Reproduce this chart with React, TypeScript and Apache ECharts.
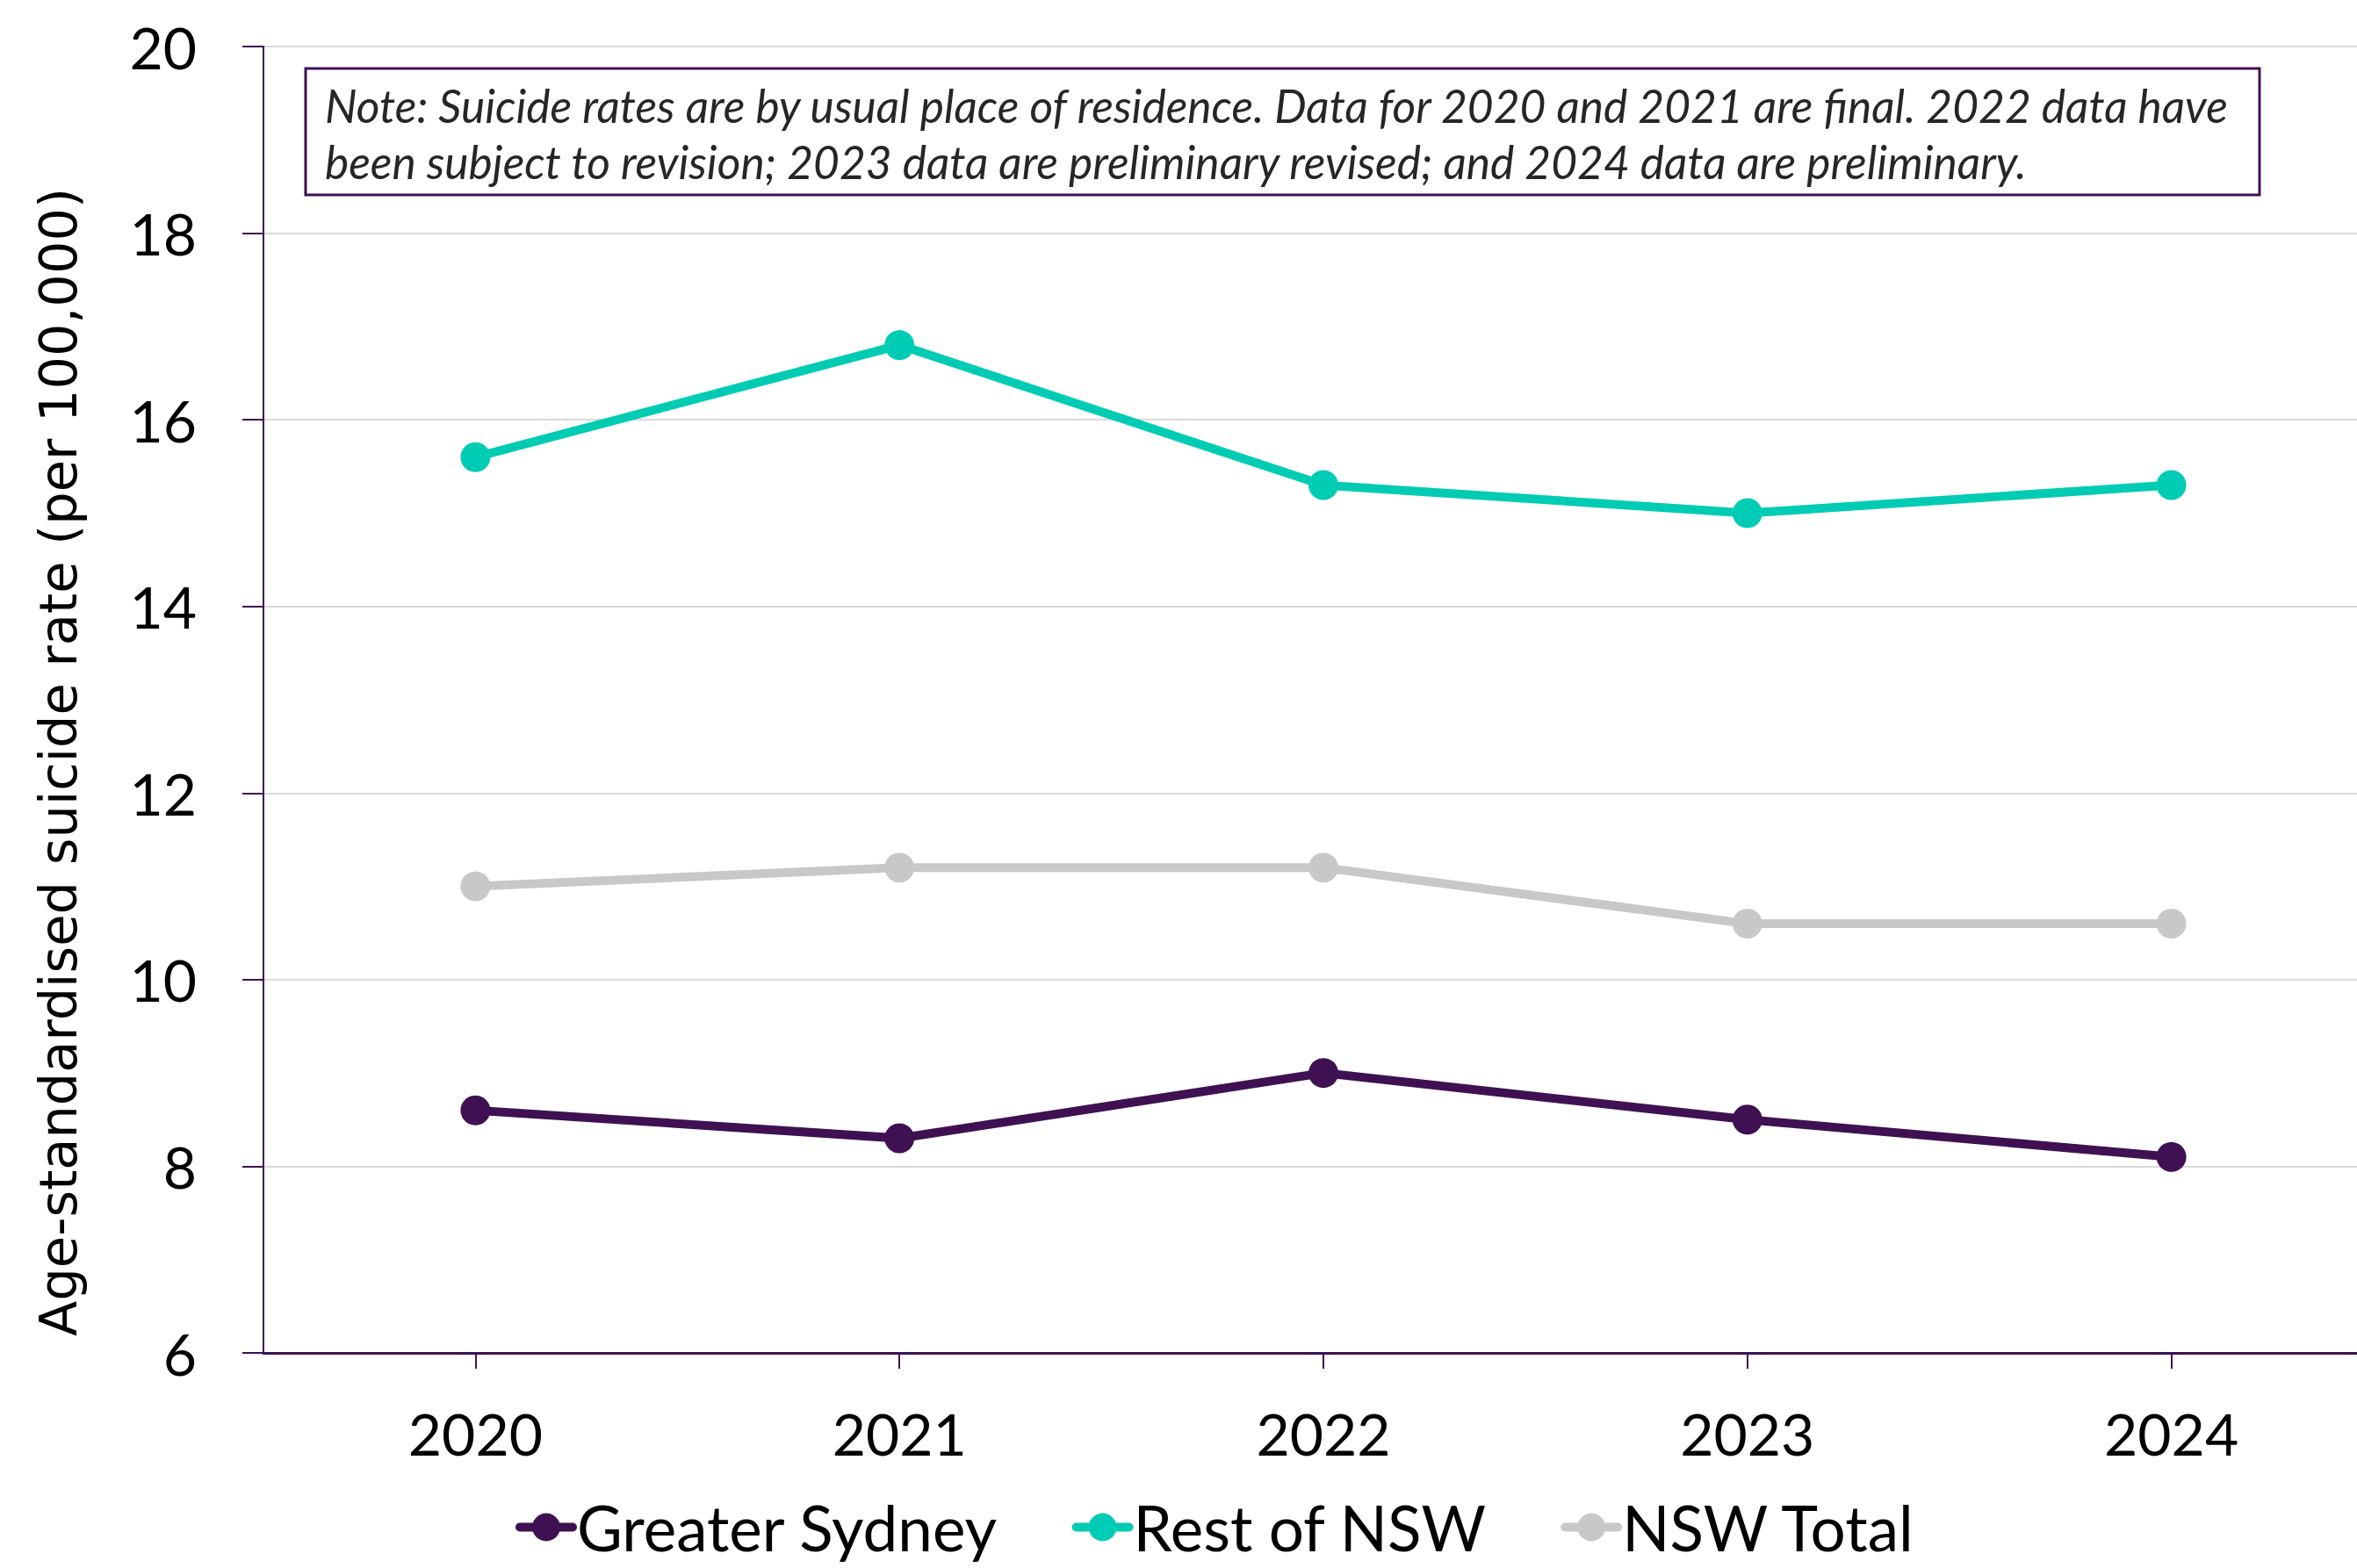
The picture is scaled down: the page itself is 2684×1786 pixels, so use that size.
import React, { useEffect, useRef } from "react";
import * as echarts from "echarts";

// Calendar years on the category axis
const years = ["2020", "2021", "2022", "2023", "2024"];

// Age-standardised suicide rates per 100,000
const greaterSydney = [8.6, 8.3, 9.0, 8.5, 8.1];
const restOfNsw = [15.6, 16.8, 15.3, 15.0, 15.3];
const nswTotal = [11.0, 11.2, 11.2, 10.6, 10.6];

// Value axis range
const yMin = 6;
const yMax = 20;
const yStep = 2;

const seriesNames = ["Greater Sydney", "Rest of NSW", "NSW Total"];
const seriesColors = ["#3F1152", "#00CCB4", "#C8C8C8"];

const axisTitle = "Age-standardised suicide rate (per 100,000)";
const noteText =
  "Note: Suicide rates are by usual place of residence. Data for 2020 and 2021 are final. 2022 data have\n" +
  "been subject to revision; 2023 data are preliminary revised; and 2024 data are preliminary.";

// Visible page area; the chart canvas runs a little past the right edge so the
// last category band is cut, as in the printed figure.
const VIEW_W = 2684;
const VIEW_H = 1786;
const CHART_W = 2714;
const PURPLE = "#3F1152";

export default function App() {
  const ref = useRef<HTMLDivElement>(null);

  useEffect(() => {
    if (!ref.current) return;
    const chart = echarts.init(ref.current, undefined, { renderer: "svg" });

    const values = [greaterSydney, restOfNsw, nswTotal];

    chart.setOption({
      animation: false,
      backgroundColor: "#FFFFFF",
      grid: { left: 300, right: 0, top: 53, bottom: 245, containLabel: false },
      xAxis: {
        type: "category",
        data: years,
        boundaryGap: true,
        axisLine: { show: true, lineStyle: { color: PURPLE, width: 3 } },
        axisTick: { show: true, alignWithLabel: true, length: 18, lineStyle: { color: PURPLE, width: 2 } },
        axisLabel: { color: "#000000", fontFamily: "Lato", fontSize: 66, margin: 58 },
        splitLine: { show: false },
      },
      yAxis: {
        type: "value",
        min: yMin,
        max: yMax,
        interval: yStep,
        axisLine: { show: true, lineStyle: { color: PURPLE, width: 2 } },
        axisTick: { show: true, inside: false, length: 24, lineStyle: { color: PURPLE, width: 2 } },
        axisLabel: { color: "#000000", fontFamily: "Lato", fontSize: 66, margin: 76 },
        splitLine: { show: true, lineStyle: { color: "#D9D9D9", width: 2 } },
      },
      legend: {
        left: 582,
        top: 1699,
        itemWidth: 60,
        itemHeight: 40,
        itemGap: 84,
        lineStyle: { width: 10, cap: "round" },
        textStyle: { color: "#000000", fontFamily: "Lato", fontSize: 71 },
        data: seriesNames,
      },
      series: seriesNames.map((name, i) => ({
        name,
        type: "line",
        data: values[i],
        symbol: "circle",
        symbolSize: 34,
        showSymbol: true,
        lineStyle: { color: seriesColors[i], width: 10, cap: "round" },
        itemStyle: { color: seriesColors[i] },
        z: 3,
      })),
      graphic: [
        {
          type: "text",
          x: 66,
          y: 868,
          rotation: Math.PI / 2,
          style: {
            text: axisTitle,
            fill: "#000000",
            font: "59px 'DejaVu Sans'",
            align: "center",
            verticalAlign: "middle",
          },
        },
        {
          type: "rect",
          shape: { x: 348, y: 78, width: 2225, height: 144 },
          style: { fill: "#FFFFFF", stroke: PURPLE, lineWidth: 3 },
          z: 10,
        },
        {
          type: "text",
          x: 370,
          y: 152,
          style: {
            text: noteText,
            fill: "#262626",
            font: "italic 51.5px Lato",
            lineHeight: 64,
            align: "left",
            verticalAlign: "middle",
          },
          z: 11,
        },
      ],
    });

    return () => chart.dispose();
  }, []);

  return (
    <div
      style={{
        position: "fixed",
        left: 0,
        top: 0,
        width: VIEW_W,
        height: VIEW_H,
        overflow: "hidden",
        background: "#FFFFFF",
      }}
    >
      <div ref={ref} style={{ width: CHART_W, height: VIEW_H }} />
    </div>
  );
}
